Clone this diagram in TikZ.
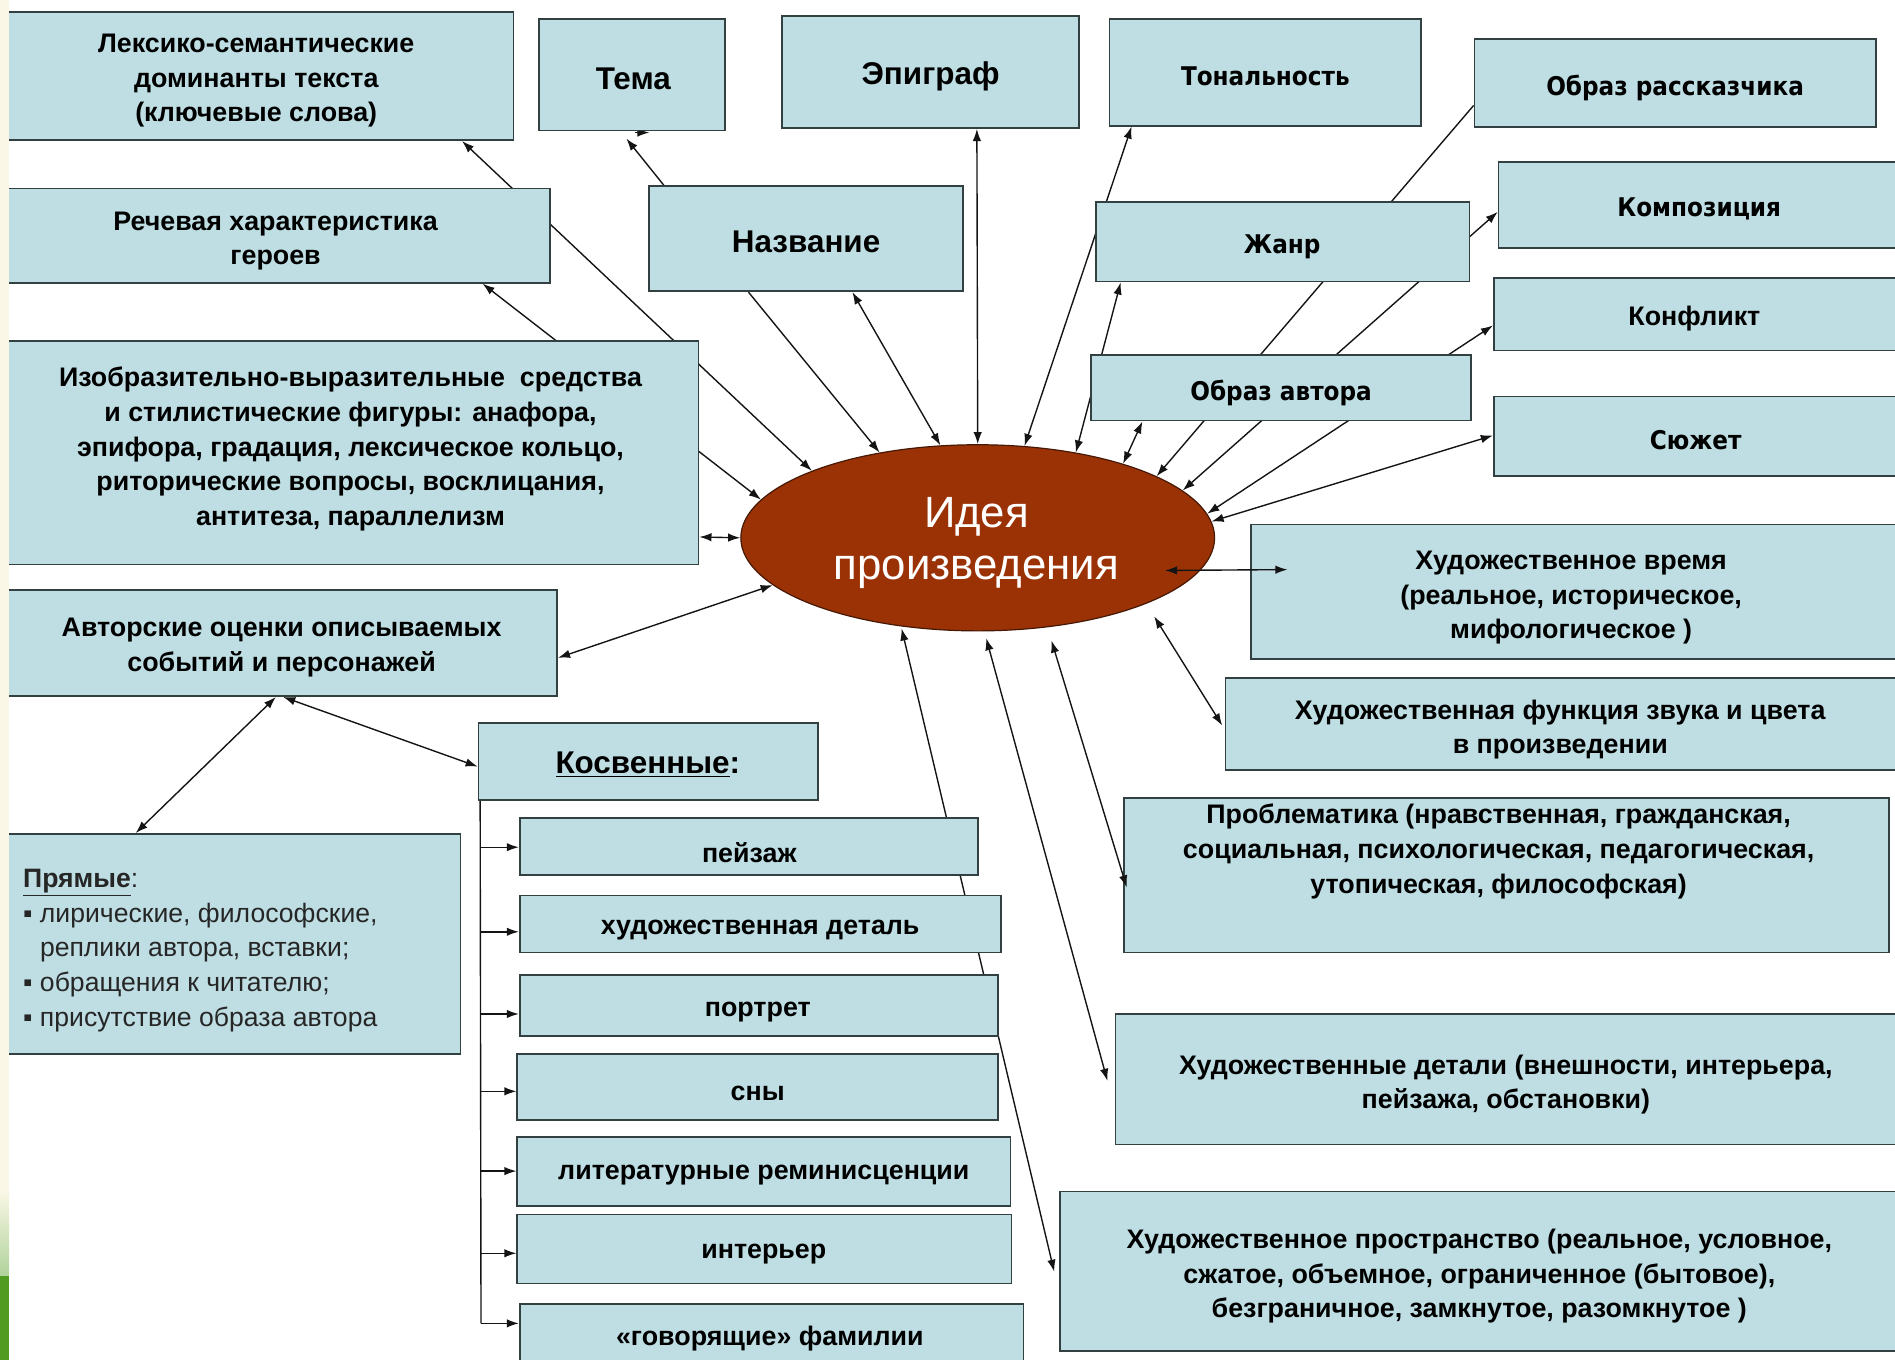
\documentclass[tikz,border=0pt]{standalone}
\usepackage{fontspec}
\setmainfont{Liberation Sans}
\newfontfamily\tah{DejaVu Sans}[FakeStretch=0.9]
\usetikzlibrary{arrows.meta,fit,calc,shapes.geometric}
\pgfdeclarelayer{bg}
\pgfdeclarelayer{lines}
\pgfdeclarelayer{front}
\pgfsetlayers{bg,lines,main,front}
\definecolor{boxblue}{RGB}{190,222,227}
\definecolor{boxline}{RGB}{50,64,66}
\definecolor{ideared}{RGB}{155,50,6}
\definecolor{idealine}{RGB}{70,25,5}
\definecolor{stripcream}{RGB}{250,247,230}
\definecolor{stripgreen}{RGB}{80,155,32}
\definecolor{lncol}{RGB}{20,20,20}
\begin{document}
\begin{tikzpicture}[x=1pt,y=-1pt,
  box/.style={draw=boxline, fill=boxblue, line width=1.4pt, inner sep=0pt},
  txt/.style={align=center, inner sep=0pt, yshift=-2.5pt, text=black, font=\fontsize{22.2}{28.6}\selectfont\bfseries},
  big/.style={font=\fontsize{26}{30}\selectfont\bfseries},
  tahs/.style={font=\tah\fontsize{21.3}{26}\selectfont\bfseries},
  ln/.style={draw=lncol, line width=1.15pt},
  arr/.style={ln, -{Latex[length=10pt,width=7pt]}},
  darr/.style={ln, {Latex[length=10pt,width=7pt]}-{Latex[length=10pt,width=7pt]}},
]
\useasboundingbox (0,0) rectangle (1568,1125);
\begin{pgfonlayer}{bg}
\fill[white] (0,0) rectangle (1568,1125);
\end{pgfonlayer}

% boxes
\node[box, fit={(2,10)(425,116)}] (lex) {};
\node[box, fit={(446,16)(600,108)}] (tema) {};
\node[box, fit={(647,13)(893,106)}] (epig) {};
\node[box, fit={(918,16)(1176,104)}] (tonal) {};
\node[box, fit={(1220,32)(1552,105)}] (rassk) {};
\node[box, fit={(2,156)(455,234)}] (rech) {};
\node[box, fit={(537,154)(797,241)}] (nazv) {};
\node[box, fit={(907,167)(1216,233)}] (zhanr) {};
\node[box, fit={(1240,134)(1580,205)}] (komp) {};
\node[box, fit={(1236,230)(1580,290)}] (konf) {};
\node[box, fit={(903,294)(1217,348)}] (oa) {};
\node[box, fit={(1236,328)(1580,394)}] (syuzh) {};
\node[box, fit={(2,282)(578,467)}] (izo) {};
\node[box, fit={(1035,434)(1580,545)}] (vremya) {};
\node[box, fit={(2,488)(461,576)}] (avt) {};
\node[box, fit={(1014,561)(1580,637)}] (funk) {};
\node[box, fit={(396,598)(677,662)}] (kosv) {};
\node[box, fit={(2,690)(381,872)}] (pryam) {};
\node[box, fit={(930,660)(1563,788)}] (prob) {};
\node[box, fit={(430,677)(809,724)}] (c1) {};
\node[box, fit={(430,741)(828,788)}] (c2) {};
\node[box, fit={(430,807)(826,857)}] (c3) {};
\node[box, fit={(428,872)(826,927)}] (c4) {};
\node[box, fit={(428,941)(836,998)}] (c5) {};
\node[box, fit={(428,1005)(837,1062)}] (c6) {};
\node[box, fit={(430,1079)(847,1140)}] (c7) {};
\node[box, fit={(923,839)(1580,947)}] (det) {};
\node[box, fit={(877,986)(1580,1118)}] (prost) {};

\node[ellipse, draw=idealine, fill=ideared, line width=1pt, minimum width=392pt,
      minimum height=154pt, inner sep=0pt] (idea) at (809,445) {};
\node[align=center, inner sep=0pt, text=white, font=\fontsize{36.2}{43}\selectfont]
      (ideaT) at (808,449) {Идея\\произведения};

% texts
\node[txt] (lexT) at (212,64.5) {Лексико-семантические\\доминанты текста\\(ключевые слова)};
\node[txt,big] (temaT) at (524,63) {Тема};
\node[txt,big] (epigT) at (770,61) {Эпиграф};
\node[txt,tahs] (tonalT) at (1047,61) {Тональность};
\node[txt,tahs] (rasskT) at (1386,70) {Образ рассказчика};
\node[txt] (rechT) at (228,197) {Речевая характеристика\\героев};
\node[txt,big] (nazvT) at (667,198) {Название};
\node[txt,tahs] (zhanrT) at (1061,202) {Жанр};
\node[txt,tahs] (kompT) at (1406,170) {Композиция};
\node[txt] (konfT) at (1402,261) {Конфликт};
\node[txt,tahs] (oaT) at (1060,323) {Образ автора};
\node[txt,tahs] (syuzhT) at (1403,362) {Сюжет};
\node[txt] (izoT) at (290,369) {Изобразительно-выразительные~ средства\\и стилистические фигуры: анафора,\\эпифора, градация, лексическое кольцо,\\риторические вопросы, восклицания,\\антитеза, параллелизм};
\node[txt] (vremyaT) at (1300,492) {Художественное время\\(реальное, историческое,\\мифологическое )};
\node[txt] (avtT) at (233,533.5) {Авторские оценки описываемых\\событий и персонажей};
\node[txt] (funkT) at (1291,601) {Художественная функция звука и цвета\\в произведении};
\node[txt,big] (kosvT) at (536,630) {\underline{Косвенные}:};
\node[txt, align=left, anchor=west, text=black!85, font=\fontsize{22}{28.7}\selectfont] (pryamT) at (19,784)
  {\textbf{\underline{Прямые}}:\\
   ▪ лирические, философские,\\
   \hphantom{▪ }реплики автора, вставки;\\
   ▪ обращения к читателю;\\
   ▪ присутствие образа автора};
\node[txt] (probT) at (1240,702) {Проблематика (нравственная, гражданская,\\социальная, психологическая, педагогическая,\\утопическая, философская)};
\node[txt] (c1T) at (620,703) {пейзаж};
\node[txt] (c2T) at (629,767) {художественная деталь};
\node[txt] (c3T) at (627,835) {портрет};
\node[txt] (c4T) at (627,902) {сны};
\node[txt] (c5T) at (632,970) {литературные реминисценции};
\node[txt] (c6T) at (632,1035) {интерьер};
\node[txt] (c7T) at (637,1105) {«говорящие» фамилии};
\node[txt] (detT) at (1246,895) {Художественные детали (внешности, интерьера,\\пейзажа, обстановки)};
\node[txt] (prostT) at (1224,1053.5) {Художественное пространство (реальное, условное,\\сжатое, объемное, ограниченное (бытовое),\\безграничное, замкнутое, разомкнутое )};

% connectors behind boxes
\begin{pgfonlayer}{lines}
\draw[darr] ($(lex.south west)+(381,0)$) -- (idea.158.1);
\draw[darr] ($(rech.south west)+(398,0)$) -- (idea.170.2);
\draw[arr] ($(nazv.north west)+(13,0)$) -- ($(tema.south west)+(73,6)$);
\draw[arr] ($(tema.south west)+(80,1)$) -- ($(tema.south west)+(92,1)$);
\draw[arr] ($(nazv.south west)+(83,0)$) -- (idea.139.4);
\draw[darr] ($(nazv.south west)+(169,0)$) -- (idea.112.3);
\draw[darr] ($(epig.south west)+(162,0)$) -- (idea.90);
\draw[darr] ($(tonal.south west)+(19,0)$) -- (idea.63.3);
\draw[darr] ($(zhanr.south west)+(21,0)$) -- (idea.41.2);
\draw[darr] ($(oa.south west)+(43,0)$) -- (idea.27);
\draw[arr] ($(rassk.north west)+(0,56)$) -- (idea.19.85);
\draw[darr] ($(komp.north west)+(0,42)$) -- (idea.13.9);
\draw[darr] ($(konf.north west)+(0,40)$) -- (idea.6.5);
\draw[darr] ($(syuzh.north west)+(0,33)$) -- (idea.4.4);
\draw[darr] ($(izo.north east)+(0,163)$) -- (idea.180);
\draw[darr] ($(avt.north east)+(0,57)$) -- (idea.193);
\draw[darr] ($(idea.center)+(146,65)$) -- ($(funk.north west)+(-2,40)$);
\draw[darr] ($(idea.center)+(7,83)$) -- ($(det.north west)+(-6,56)$);
\draw[darr] ($(idea.center)+(-63,75)$) -- ($(prost.north west)+(-4,67)$);
\draw[darr] ($(avt.south west)+(227,0)$) -- ($(pryam.north west)+(111,0)$);
\draw[darr] ($(avt.south west)+(233,0)$) -- ($(kosv.north west)+(0,37)$);
\coordinate (trunk) at ($(kosv.south west)+(2,0)$);
\foreach \n/\yy in {c1/701, c2/771, c3/839, c4/903, c5/969, c6/1037, c7/1095} {
  \coordinate (b\n) at (398,\yy);
  \draw[arr] (b\n) -- (b\n -| \n.west);
}
\draw[ln] (trunk) -- (bc7);
\end{pgfonlayer}

% connectors on top
\draw[darr] ($(idea.center)+(155,27)$) -- ($(vremya.north west)+(31,38)$);
\draw[darr] ($(idea.center)+(61,85)$) -- ($(prob.north west)+(3,75)$);

% left strip
\begin{pgfonlayer}{front}
\fill[stripcream] (0,0) rectangle (7.5,1125);
\shade[top color=stripcream, bottom color=stripgreen!45] (0,985) rectangle (7.5,1056);
\fill[stripgreen] (0,1056) rectangle (7.5,1125);
\end{pgfonlayer}
\end{tikzpicture}
\end{document}
